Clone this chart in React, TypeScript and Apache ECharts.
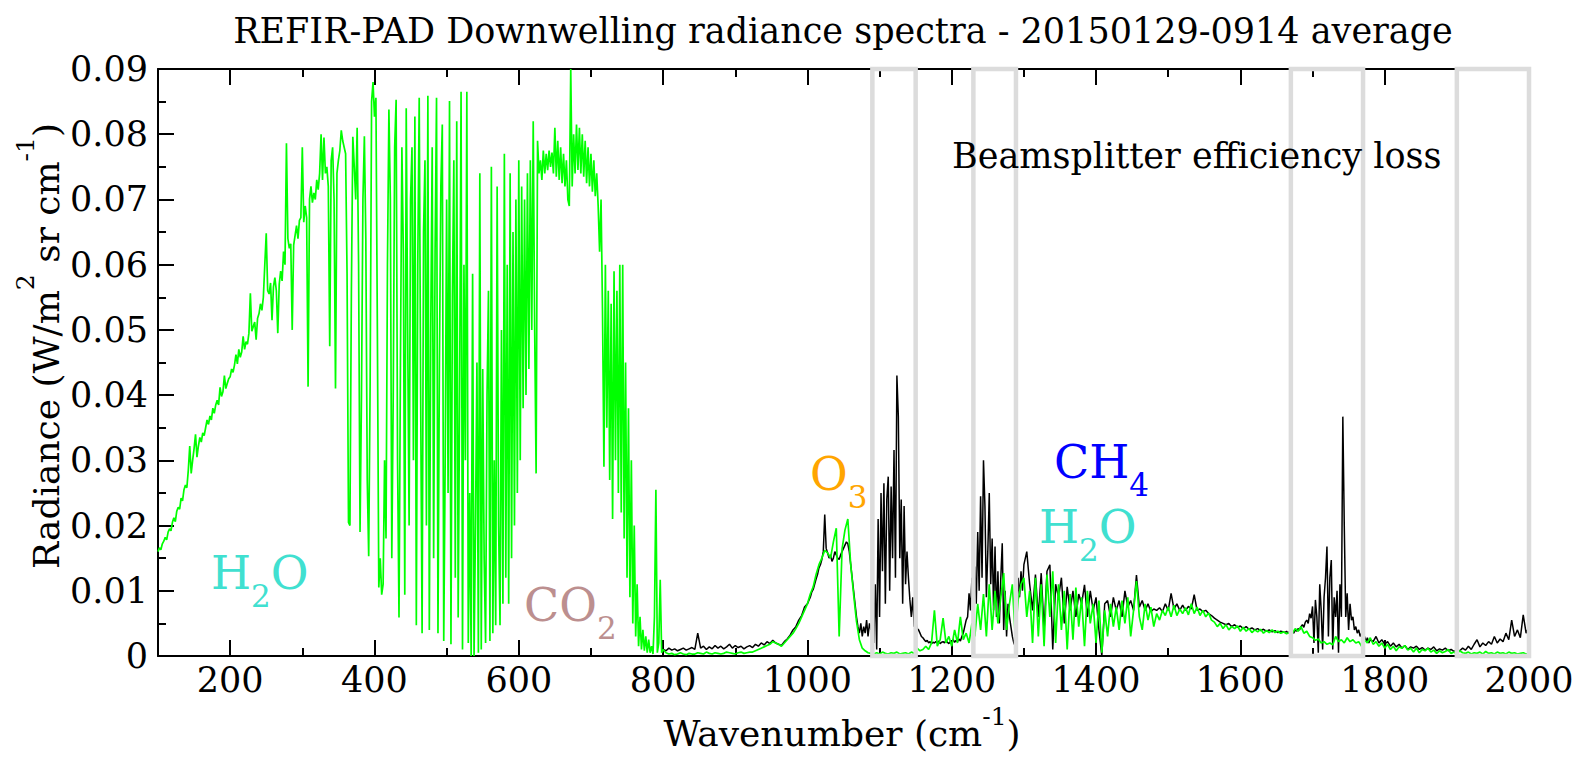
import React, { useEffect, useRef } from "react";
import * as echarts from "echarts";

const FONT = "DejaVu Serif";

const TITLE = "REFIR-PAD Downwelling radiance spectra - 20150129-0914 average";

// Radiance values are written in units of 1e-4 W/(m2 sr cm-1).
// Each segment is sampled on a regular wavenumber grid (start, spacing in cm-1).

// Green spectrum, 100-328 cm-1
const GREEN_LOW_START = 100;
const GREEN_LOW_STEP = 2;
const GREEN_LOW = [
  160, 166, 163, 172, 176, 182, 178, 190, 195, 192,
  205, 212, 206, 222, 228, 225, 242, 238, 255, 262,
  258, 285, 322, 280, 300, 318, 340, 305, 322, 335,
  328, 342, 338, 350, 362, 355, 368, 362, 380, 372,
  385, 392, 385, 412, 398, 405, 430, 410, 418, 425,
  428, 440, 435, 446, 462, 448, 470, 458, 466, 490,
  470, 482, 478, 495, 556, 498, 505, 512, 485, 518,
  525, 540, 530, 550, 600, 648, 560, 555, 572, 515,
  566, 580, 560, 495, 570, 590, 575, 620, 600, 786,
  640, 625, 632, 500, 630, 645, 660, 640, 668, 672,
  780, 665, 690, 672, 413, 700, 720, 695, 710, 700,
  730, 715, 740, 800, 730,
];

// Green spectrum, 330-800 cm-1
const GREEN_MID_START = 330;
const GREEN_MID_STEP = 2;
const GREEN_MID = [
  795, 740, 750, 720, 475, 760, 780, 700, 410, 740,
  760, 775, 806, 790, 780, 770, 586, 205, 200, 560,
  796, 750, 700, 810, 600, 190, 400, 700, 797, 640,
  270, 153, 420, 850, 880, 827, 856, 500, 105, 150,
  94, 110, 300, 180, 600, 838, 700, 150, 400, 780,
  853, 300, 59, 450, 780, 620, 94, 840, 500, 200,
  700, 780, 300, 827, 47, 600, 856, 400, 35, 650,
  760, 200, 859, 40, 500, 780, 150, 620, 856, 35,
  450, 720, 815, 23, 300, 700, 250, 851, 18, 550,
  760, 120, 820, 59, 400, 865, 10, 600, 300, 865,
  20, 250, 0, 586, 0, 200, 450, 5, 740, 10,
  440, 150, 20, 400, 560, 23, 750, 35, 300, 47,
  720, 200, 47, 500, 80, 770, 120, 600, 80, 740,
  150, 650, 200, 700, 250, 760, 300, 720, 380, 700,
  400, 740, 440, 760, 500, 820, 504, 280, 790, 740,
  760, 730, 775, 740, 770, 745, 775, 750, 772, 740,
  810, 735, 790, 730, 780, 725, 770, 720, 760, 700,
  690, 900, 720, 800, 740, 815, 745, 810, 740, 800,
  735, 790, 725, 780, 720, 770, 712, 760, 705, 740,
  690, 620, 700, 530, 290, 600, 350, 560, 270, 540,
  210, 590, 300, 560, 250, 600, 220, 600, 180, 450,
  120, 380, 90, 300, 50, 200, 30, 110, 15, 60,
  10, 40, 8, 30, 5, 25, 5, 15, 3, 60,
  255, 5, 20, 117, 5, 10,
];

// Green spectrum, 804-2000 cm-1
const GREEN_HIGH_START = 804;
const GREEN_HIGH_STEP = 4;
const GREEN_HIGH = [
  5, 3, 4, 2, 3, 5, 3, 2, 4, 3,
  3, 5, 4, 3, 6, 4, 3, 5, 4, 3,
  4, 6, 5, 4, 3, 5, 6, 4, 5, 6,
  6, 8, 10, 12, 14, 16, 18, 22, 20, 18,
  15, 20, 25, 30, 35, 42, 50, 60, 70, 80,
  95, 106, 125, 140, 150, 162, 158, 150, 175, 196,
  30, 164, 193, 210, 140, 95, 53, 25, 12, 8,
  5, 4, 3, 5, 3, 6, 4, 3, 5, 4,
  6, 3, 4, 5, 3, 6, 4, 12, 8, 10,
  15, 10, 20, 70, 15, 25, 58, 20, 30, 15,
  40, 20, 60, 25, 35, 20, 50, 30, 80, 40,
  95, 30, 110, 40, 100, 50, 90, 127, 40, 80,
  110, 30, 86, 110, 120, 60, 100, 20, 120, 30,
  110, 15, 125, 60, 130, 20, 110, 40, 100, 10,
  95, 25, 105, 45, 90, 15, 100, 50, 80, 20,
  85, 5, 70, 30, 80, 45, 75, 40, 85, 50,
  90, 30, 70, 115, 60, 40, 80, 55, 75, 45,
  65, 55, 70, 62, 75, 60, 78, 62, 72, 65,
  74, 63, 80, 65, 75, 62, 70, 60, 66, 55,
  52, 45, 50, 42, 48, 40, 45, 42, 46, 38,
  44, 38, 42, 36, 40, 37, 41, 35, 39, 36,
  40, 36, 38, 35, 37, 34, 36, 35, 42, 38,
  45, 35, 38, 30, 28, 24, 26, 20, 22, 18,
  20, 17, 30, 22, 25, 20, 28, 22, 25, 20,
  22, 15, 25, 20, 28, 18, 22, 15, 20, 12,
  18, 10, 15, 8, 14, 12, 16, 9, 12, 6,
  12, 5, 10, 8, 12, 6, 9, 4, 8, 5,
  7, 10, 4, 6, 3, 8, 5, 4, 6, 3,
  5, 4, 6, 3, 7, 4, 5, 3, 6, 4,
  5, 3, 6, 4, 5, 3, 4, 5, 3, 4,
];

// Black spectrum, 800-996 cm-1
const BLACK_A_START = 800;
const BLACK_A_STEP = 4;
const BLACK_A = [
  10, 8, 12, 9, 11, 8, 10, 12, 9, 11,
  13, 10, 35, 12, 15, 10, 14, 11, 16, 12,
  15, 11, 14, 18, 12, 16, 13, 15, 11, 14,
  16, 13, 18, 15, 20, 17, 22, 19, 24, 20,
  18, 16, 22, 26, 32, 40, 45, 55, 62, 75,
];

// Black spectrum, 1000-1300 cm-1
const BLACK_B_START = 1000;
const BLACK_B_STEP = 2;
const BLACK_B = [
  80, 85, 90, 98, 102, 110, 118, 125, 135, 140,
  148, 160, 217, 165, 158, 150, 155, 145, 150, 160,
  155, 150, 148, 155, 160, 165, 170, 175, 172, 160,
  140, 120, 100, 80, 60, 45, 35, 50, 30, 45,
  35, 55, 30, 50, 40, 60, 20, 110, 10, 210,
  60, 250, 130, 265, 80, 240, 275, 100, 260, 150,
  316, 120, 430, 367, 150, 240, 80, 230, 110, 160,
  120, 86, 60, 90, 45, 55, 42, 40, 35, 30,
  28, 25, 22, 24, 20, 22, 19, 21, 20, 22,
  20, 23, 19, 21, 22, 20, 24, 21, 19, 22,
  22, 25, 21, 24, 22, 26, 23, 30, 35, 45,
  55, 60, 96, 70, 120, 90, 137, 80, 190, 100,
  245, 120, 300, 230, 90, 160, 250, 110, 180, 70,
  168, 60, 130, 50, 120, 173, 40, 100, 30, 80,
  60, 45, 30, 20, 15, 70, 120, 90, 130, 100,
  140,
];

// Black spectrum, 1304-1656 cm-1
const BLACK_C_START = 1304;
const BLACK_C_STEP = 4;
const BLACK_C = [
  160, 110, 70, 125, 60, 127, 40, 130, 140, 10,
  110, 90, 120, 50, 106, 70, 100, 60, 95, 80,
  109, 60, 100, 70, 90, 40, 0, 80, 85, 60,
  90, 70, 85, 60, 100, 75, 85, 70, 124, 75,
  85, 70, 80, 68, 72, 70, 74, 68, 80, 70,
  96, 72, 80, 70, 78, 70, 76, 72, 94, 70,
  72, 68, 70, 65, 62, 58, 55, 52, 50, 48,
  50, 45, 48, 44, 46, 42, 45, 41, 43, 40,
  42, 39, 41, 38, 40, 37, 39, 36, 38,
];

// Black spectrum, 1660-1780 cm-1
const BLACK_D_START = 1660;
const BLACK_D_STEP = 2;
const BLACK_D = [
  37, 36, 38, 35, 37, 36, 38, 35, 40, 38,
  42, 40, 45, 48, 44, 52, 55, 50, 65, 58,
  76, 20, 86, 60, 5, 110, 70, 10, 90, 120,
  168, 30, 120, 147, 10, 90, 60, 100, 5, 110,
  60, 367, 200, 60, 96, 40, 80, 55, 60, 40,
  45, 35, 40, 30, 35, 25, 30, 22, 28, 20,
  25,
];

// Black spectrum, 1784-2000 cm-1
const BLACK_E_START = 1784;
const BLACK_E_STEP = 4;
const BLACK_E = [
  22, 30, 20, 25, 18, 22, 15, 20, 14, 18,
  12, 16, 10, 14, 12, 15, 10, 13, 9, 12,
  10, 14, 8, 11, 9, 12, 8, 10, 7, 9,
  8, 12, 9, 15, 10, 18, 25, 14, 20, 16,
  22, 18, 30, 20, 26, 22, 35, 25, 55, 30,
  40, 28, 63, 35, 45,
];

// Beamsplitter efficiency loss windows (cm-1)
const BOX_FROM = [1090, 1230, 1670, 1900];
const BOX_TO = [1150, 1289, 1770, 2000];

const X_MAJOR = [200, 400, 600, 800, 1000, 1200, 1400, 1600, 1800, 2000];
const X_MINOR = [300, 500, 700, 900, 1100, 1300, 1500, 1700, 1900];

function seg(start: number, step: number, vals: number[]) {
  return vals.map((v, i) => [start + i * step, v / 10000]);
}

const GREEN = [
  ...seg(GREEN_LOW_START, GREEN_LOW_STEP, GREEN_LOW),
  ...seg(GREEN_MID_START, GREEN_MID_STEP, GREEN_MID),
  ...seg(GREEN_HIGH_START, GREEN_HIGH_STEP, GREEN_HIGH),
];
const BLACK = [
  ...seg(BLACK_A_START, BLACK_A_STEP, BLACK_A),
  ...seg(BLACK_B_START, BLACK_B_STEP, BLACK_B),
  ...seg(BLACK_C_START, BLACK_C_STEP, BLACK_C),
  ...seg(BLACK_D_START, BLACK_D_STEP, BLACK_D),
  ...seg(BLACK_E_START, BLACK_E_STEP, BLACK_E),
];
const BOXES = BOX_FROM.map((f, i) => [f, BOX_TO[i]]);

const tickStyle = { color: "#000", width: 2 };

function xAxisDef(position: string, values: number[], len: number, line: boolean, labels: boolean) {
  return {
    type: "value",
    min: 100,
    max: 2000,
    position,
    axisLine: { show: line, onZero: false, lineStyle: { color: "#000", width: 2 } },
    axisTick: { show: true, inside: true, length: len, customValues: values, lineStyle: tickStyle },
    axisLabel: labels
      ? {
          show: true,
          customValues: values,
          fontSize: 35,
          fontFamily: FONT,
          color: "#000",
          margin: 6,
          formatter: (v: number) => String(v),
        }
      : { show: false },
    splitLine: { show: false },
  };
}

// chemical formula: main letters plus lowered digits
function annot(x: number, y: number, parts: string, color: string) {
  return {
    type: "text",
    x,
    y,
    z: 100,
    style: {
      text: parts,
      align: "left",
      verticalAlign: "middle",
      rich: {
        m: { fontSize: 46, fontFamily: FONT, fill: color, lineHeight: 52 },
        s: { fontSize: 31, fontFamily: FONT, fill: color, lineHeight: 34, padding: [46, 0, 0, 0] },
      },
    },
  };
}

function supRich(raise: number) {
  return {
    m: { fontSize: 36, fontFamily: FONT, fill: "#000", lineHeight: 42 },
    p: { fontSize: 25, fontFamily: FONT, fill: "#000", lineHeight: 28, padding: [0, 0, raise, 0] },
  };
}

export default function App() {
  const ref = useRef<HTMLDivElement>(null);
  useEffect(() => {
    document.body.style.margin = "0";
    const chart = echarts.init(ref.current!, null, { renderer: "svg" });
    const option: any = {
      animation: false,
      backgroundColor: "#fff",
      grid: { left: 158, top: 69, width: 1371, height: 587, containLabel: false, outerBoundsMode: "none" },
      xAxis: [
        xAxisDef("bottom", X_MAJOR, 16, true, true),
        xAxisDef("bottom", X_MINOR, 8, false, false),
        xAxisDef("top", X_MAJOR, 16, true, false),
        xAxisDef("top", X_MINOR, 8, false, false),
      ],
      yAxis: [
        {
          type: "value",
          min: 0,
          max: 0.09,
          interval: 0.01,
          position: "left",
          axisLine: { show: true, onZero: false, lineStyle: { color: "#000", width: 2 } },
          axisTick: { show: true, inside: true, length: 16, lineStyle: tickStyle },
          minorTick: { show: true, splitNumber: 2, length: 8, lineStyle: tickStyle },
          splitLine: { show: false },
          minorSplitLine: { show: false },
          axisLabel: {
            fontSize: 35,
            fontFamily: FONT,
            color: "#000",
            margin: 10,
            formatter: (v: number) => (v === 0 ? "0" : v.toFixed(2)),
          },
        },
      ],
      series: [
        {
          type: "line",
          data: BLACK,
          xAxisIndex: 0,
          yAxisIndex: 0,
          symbol: "none",
          showSymbol: false,
          silent: true,
          z: 2,
          lineStyle: { color: "#000000", width: 1.5 },
        },
        {
          type: "line",
          data: GREEN,
          xAxisIndex: 0,
          yAxisIndex: 0,
          symbol: "none",
          showSymbol: false,
          silent: true,
          z: 3,
          lineStyle: { color: "#00ff00", width: 1.7 },
        },
        {
          type: "custom",
          data: BOXES,
          xAxisIndex: 0,
          yAxisIndex: 0,
          silent: true,
          z: 5,
          renderItem: (params: any, api: any) => {
            const p1 = api.coord([api.value(0), 0.09]);
            const p2 = api.coord([api.value(1), 0]);
            return {
              type: "rect",
              shape: { x: p1[0], y: p1[1], width: p2[0] - p1[0], height: p2[1] - p1[1] },
              style: { fill: "none", stroke: "#dcdcdc", lineWidth: 4.5 },
            };
          },
        },
      ],
      graphic: [
        {
          type: "text",
          x: 843,
          y: 31,
          style: {
            text: TITLE,
            fontSize: 35,
            fontFamily: FONT,
            fill: "#000",
            align: "center",
            verticalAlign: "middle",
          },
        },
        {
          type: "text",
          x: 842,
          y: 733,
          style: {
            text: "{m|Wavenumber (cm}{p|-1}{m|)}",
            align: "center",
            verticalAlign: "middle",
            rich: supRich(34),
          },
        },
        {
          type: "text",
          x: 46,
          y: 346,
          rotation: Math.PI / 2,
          style: {
            text: "{m|Radiance (W/m}{p|2}{m| sr cm}{p|-1}{m|)}",
            align: "center",
            verticalAlign: "middle",
            rich: supRich(42),
          },
        },
        {
          type: "text",
          x: 952,
          y: 156,
          z: 100,
          style: {
            text: "Beamsplitter efficiency loss",
            fontSize: 35,
            fontFamily: FONT,
            fill: "#000",
            align: "left",
            verticalAlign: "middle",
          },
        },
        annot(211, 573, "{m|H}{s|2}{m|O}", "#40e0d0"),
        annot(524, 605, "{m|CO}{s|2}", "#bc8f8f"),
        annot(810, 474, "{m|O}{s|3}", "#ffa500"),
        annot(1054, 462, "{m|CH}{s|4}", "#0000ff"),
        annot(1039, 527, "{m|H}{s|2}{m|O}", "#40e0d0"),
      ],
    };
    chart.setOption(option);
    return () => chart.dispose();
  }, []);
  return <div ref={ref} style={{ width: 1577, height: 758 }} />;
}
